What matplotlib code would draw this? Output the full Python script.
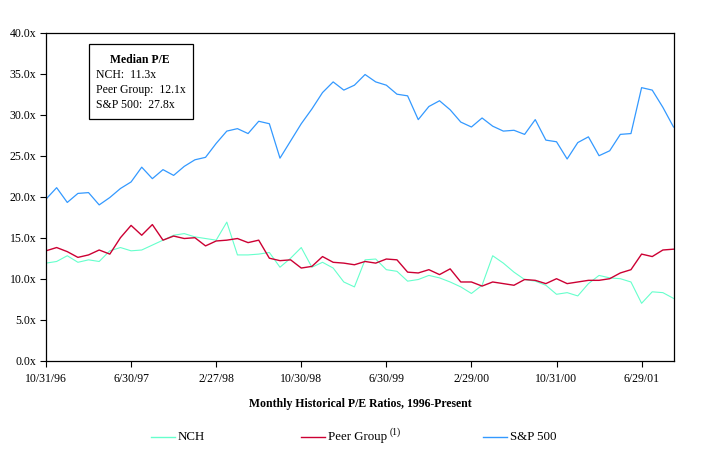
import numpy as np
import matplotlib.pyplot as plt
from matplotlib.lines import Line2D
from matplotlib.patches import Rectangle

plt.rcParams['font.family'] = ['Liberation Serif', 'DejaVu Serif']

# monthly P/E ratios, 10/31/96 .. 9/28/01
sp500 = [19.7, 21.1, 19.3, 20.4, 20.5, 19.0, 19.9, 21.0, 21.8, 23.6,
         22.2, 23.3, 22.6, 23.7, 24.5, 24.8, 26.5, 28.0, 28.3, 27.7,
         29.2, 28.9, 24.7, 26.8, 28.9, 30.7, 32.7, 34.0, 33.0, 33.6,
         34.9, 34.0, 33.6, 32.5, 32.3, 29.4, 31.0, 31.7, 30.6, 29.1,
         28.5, 29.6, 28.6, 28.0, 28.1, 27.6, 29.4, 26.9, 26.7, 24.6,
         26.6, 27.3, 25.0, 25.6, 27.6, 27.7, 33.3, 33.0, 30.9, 28.5]
peer = [13.4, 13.8, 13.3, 12.6, 12.9, 13.5, 13.0, 15.0, 16.5, 15.3,
        16.6, 14.7, 15.2, 14.9, 15.0, 14.0, 14.6, 14.7, 14.9, 14.4,
        14.7, 12.5, 12.2, 12.3, 11.3, 11.5, 12.7, 12.0, 11.9, 11.7,
        12.1, 11.9, 12.4, 12.3, 10.8, 10.7, 11.1, 10.5, 11.2, 9.6,
        9.6, 9.1, 9.6, 9.4, 9.2, 9.9, 9.8, 9.4, 10.0, 9.4,
        9.6, 9.8, 9.8, 10.0, 10.7, 11.1, 13.0, 12.7, 13.5, 13.6]
nch = [11.9, 12.1, 12.8, 12.0, 12.3, 12.1, 13.4, 13.8, 13.4, 13.5,
       14.1, 14.7, 15.3, 15.5, 15.1, 14.9, 14.7, 16.9, 12.9, 12.9,
       13.0, 13.2, 11.4, 12.5, 13.8, 11.4, 12.0, 11.3, 9.6, 9.0,
       12.3, 12.4, 11.1, 10.9, 9.7, 9.9, 10.4, 10.1, 9.6, 9.0,
       8.2, 9.2, 12.8, 11.9, 10.8, 9.9, 9.7, 9.2, 8.1, 8.3,
       7.9, 9.4, 10.4, 10.1, 10.0, 9.6, 7.0, 8.4, 8.3, 7.6]
tick_labels = ['10/31/96', '6/30/97', '2/27/98', '10/30/98',
               '6/30/99', '2/29/00', '10/31/00', '6/29/01']
y_ticks = [0, 5, 10, 15, 20, 25, 30, 35, 40]

c_nch = '#66FFCC'
c_peer = '#CC0033'
c_sp = '#3399FF'

fig = plt.figure(figsize=(7.03, 4.62), dpi=100)
ax = fig.add_axes([46/703, 1-360.7/462, 627.5/703, 328/462])

x = np.arange(len(sp500))
ax.plot(x, nch, color=c_nch, lw=0.8)
ax.plot(x, peer, color=c_peer, lw=1.0)
ax.plot(x, sp500, color=c_sp, lw=0.9)

ax.set_xlim(0, len(sp500) - 1)
ax.set_ylim(0, 40)
ax.set_yticks(y_ticks)
ax.set_yticklabels([f'{v:.1f}x' for v in y_ticks])
ax.set_xticks(np.arange(0, len(sp500), 8))
ax.set_xticklabels(tick_labels)
ax.tick_params(labelsize=8.5, length=4, width=0.8, direction='out', pad=5)
ax.tick_params(axis='y', pad=3)
for s in ax.spines.values():
    s.set_linewidth(0.9)

# median box
fig.add_artist(Rectangle((88.5/703, 1-118.5/462), 104/703, 74/462,
                         transform=fig.transFigure, fill=False, lw=0.9, ec='black'))
fig.text(140/703, 1-60/462, 'Median P/E', ha='center', va='center',
         fontsize=8.5, fontweight='bold')
fig.text(96/703, 1-74.5/462, 'NCH:  11.3x', va='center', fontsize=8.5)
fig.text(96/703, 1-90/462, 'Peer Group:  12.1x', va='center', fontsize=8.5)
fig.text(96/703, 1-105/462, 'S&P 500:  27.8x', va='center', fontsize=8.5)

fig.text(360/703, 1-404/462, 'Monthly Historical P/E Ratios, 1996-Present',
         ha='center', va='center', fontsize=8.5, fontweight='bold')

# legend
ly = 1 - 437/462
for x0, col, lab in [(151, c_nch, 'NCH'), (301, c_peer, 'Peer Group'), (483, c_sp, 'S&P 500')]:
    fig.add_artist(Line2D([x0/703, (x0+24)/703], [ly, ly], color=col, lw=1.0,
                          transform=fig.transFigure))
    fig.text((x0+27)/703, ly, lab, va='center', fontsize=9.3)
fig.text(390/703, 1-432/462, '(1)', va='center', fontsize=7)

fig.savefig('out.png', dpi=100)
